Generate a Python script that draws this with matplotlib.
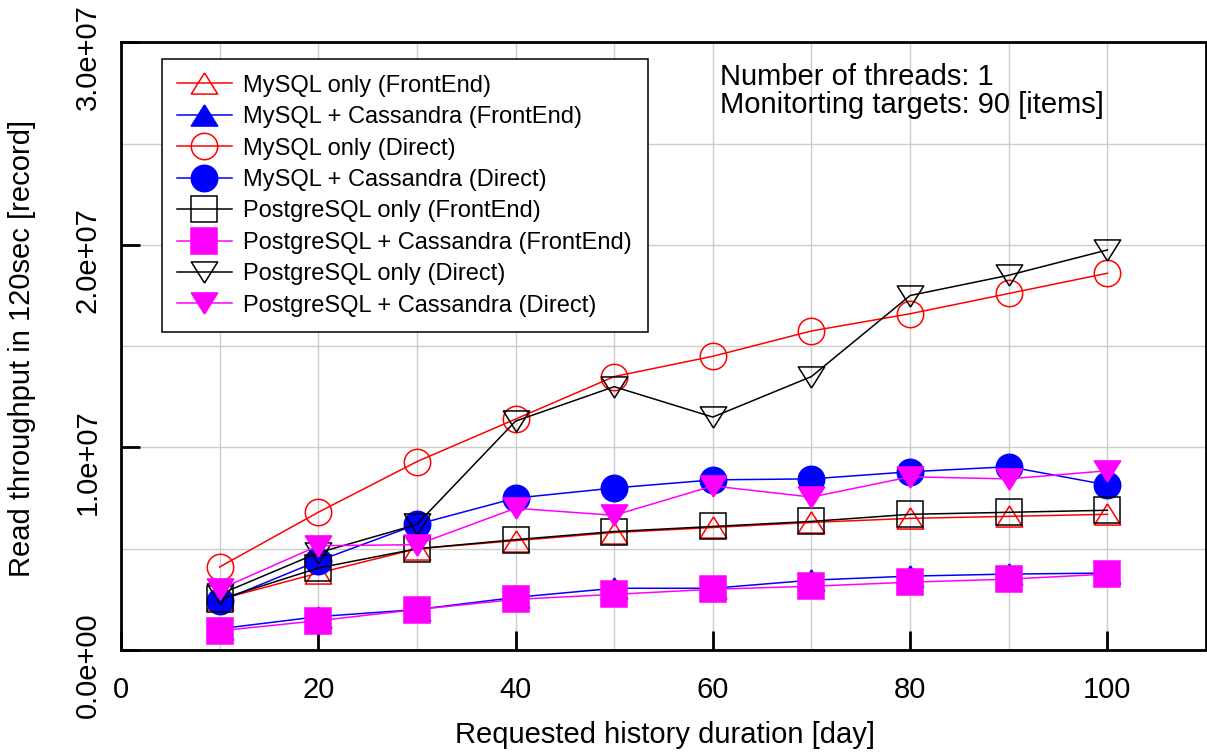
import numpy as np
import matplotlib
matplotlib.use('Agg')
from matplotlib import pyplot as plt
from matplotlib.ticker import MultipleLocator, FuncFormatter
from matplotlib.transforms import ScaledTranslation

plt.rcParams['font.family'] = ['Liberation Sans', 'DejaVu Sans']

#------------------------------ data ------------------------------
days = [10, 20, 30, 40, 50, 60, 70, 80, 90, 100]

mysql_fe = [2.5, 3.8, 5.0, 5.4, 5.8, 6.05, 6.3, 6.5, 6.6, 6.7]
mysql_cass_fe = [1.05, 1.65, 2.0, 2.6, 3.05, 3.05, 3.45, 3.65, 3.75, 3.8]
mysql_direct = [4.1, 6.8, 9.3, 11.4, 13.5, 14.5, 15.75, 16.6, 17.6, 18.6]
mysql_cass_direct = [2.4, 4.4, 6.2, 7.5, 8.0, 8.4, 8.45, 8.8, 9.05, 8.15]
pg_fe = [2.5, 4.05, 5.0, 5.45, 5.85, 6.1, 6.35, 6.7, 6.8, 6.9]
pg_cass_fe = [0.95, 1.45, 2.0, 2.5, 2.75, 3.0, 3.15, 3.35, 3.5, 3.75]
pg_direct = [2.75, 4.8, 6.2, 11.3, 13.0, 11.5, 13.5, 17.5, 18.5, 19.75]
pg_cass_direct = [3.0, 5.15, 5.2, 7.0, 6.65, 8.1, 7.55, 8.55, 8.45, 8.85]

labels = ['MySQL only (FrontEnd)', 'MySQL + Cassandra (FrontEnd)',
          'MySQL only (Direct)', 'MySQL + Cassandra (Direct)',
          'PostgreSQL only (FrontEnd)', 'PostgreSQL + Cassandra (FrontEnd)',
          'PostgreSQL only (Direct)', 'PostgreSQL + Cassandra (Direct)']
series = [mysql_fe, mysql_cass_fe, mysql_direct, mysql_cass_direct,
          pg_fe, pg_cass_fe, pg_direct, pg_cass_direct]

#------------------------------ styles ----------------------------
tri_up = [(0, 0.8), (-1, -0.8), (1, -0.8), (0, 0.8)]
tri_dn = [(0, -0.8), (-1, 0.8), (1, 0.8), (0, -0.8)]
styles = [
    ('#ff0000', tri_up, 'none'),
    ('#0000ff', tri_up, '#0000ff'),
    ('#ff0000', 'o', 'none'),
    ('#0000ff', 'o', '#0000ff'),
    ('#000000', 's', 'none'),
    ('#ff00ff', 's', '#ff00ff'),
    ('#000000', tri_dn, 'none'),
    ('#ff00ff', tri_dn, '#ff00ff'),
]

fig = plt.figure(figsize=(12.07, 7.55), dpi=100)
ax = fig.add_axes([0.1002, 0.139, 0.899, 0.805])

for vals, lab, (col, mk, fc) in zip(series, labels, styles):
    ax.plot(days, np.array(vals) * 1e6, color=col, lw=1.1, marker=mk,
            markersize=19, markerfacecolor=fc, markeredgecolor=col,
            markeredgewidth=1.1, label=lab)

ax.set_xlim(0, 110)
ax.set_ylim(0, 3e7)
ax.xaxis.set_major_locator(MultipleLocator(20))
ax.xaxis.set_minor_locator(MultipleLocator(10))
ax.yaxis.set_major_locator(MultipleLocator(1e7))
ax.yaxis.set_minor_locator(MultipleLocator(5e6))
ax.yaxis.set_major_formatter(FuncFormatter(lambda v, p: f'{v:.1e}'))
ax.grid(True, which='both', color='#cccccc', lw=1.0)
ax.set_axisbelow(True)

ax.tick_params(which='major', direction='in', length=14, width=2,
               labelsize=21, top=False, right=False)
ax.tick_params(which='minor', length=0)
ax.tick_params(axis='x', pad=19)
ax.tick_params(axis='y', pad=14)
for sp in ax.spines.values():
    sp.set_linewidth(2)

# rotated y tick labels, sitting a bit below their ticks like gnuplot
off = ScaledTranslation(0, -15 / 100, fig.dpi_scale_trans)
for t in ax.get_yticklabels():
    t.set_rotation(90)
    t.set_va('center')
    t.set_transform(t.get_transform() + off)

leg = ax.legend(loc='upper left', bbox_to_anchor=(0.0378, 0.972),
                borderaxespad=0, fontsize=17, labelspacing=0.4,
                handlelength=2.3, handletextpad=0.5, borderpad=0.65,
                fancybox=False, framealpha=1, edgecolor='black')
leg.get_frame().set_linewidth(1.1)

ax.text(0.552, 0.966, 'Number of threads: 1\nMonitorting targets: 90 [items]',
        transform=ax.transAxes, ha='left', va='top', fontsize=21,
        linespacing=1.0)

fig.text(22 / 1207, (755 - 348) / 755, 'Read throughput in 120sec [record]',
         rotation=90, ha='center', va='center', fontsize=21)
fig.text(665 / 1207, (755 - 735) / 755, 'Requested history duration [day]',
         ha='center', va='center', fontsize=21)

fig.savefig('out.png', dpi=100)
